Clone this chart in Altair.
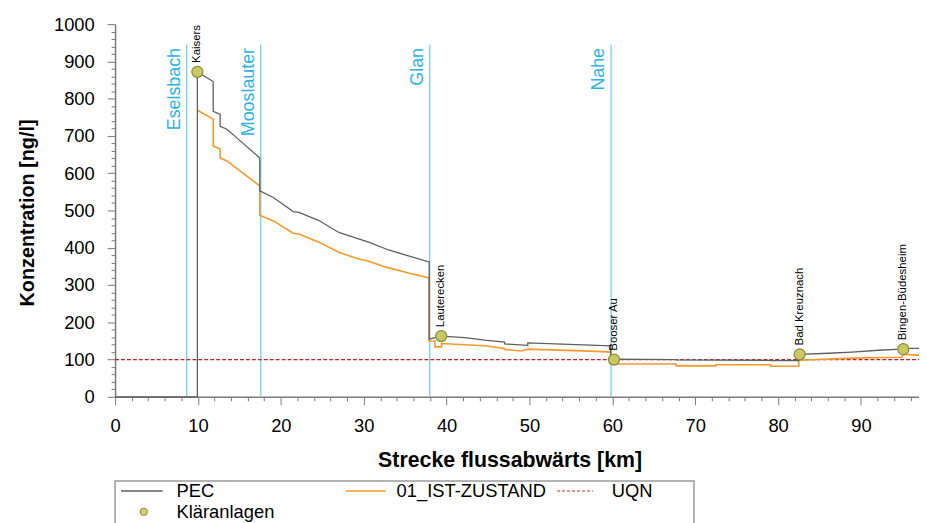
import altair as alt
import pandas as pd

# ---- data ----
pec_km = [0, 9.93, 9.93, 11.84, 11.84, 12.68, 12.68, 13.5, 15.55, 17.46,
          17.46, 19.1, 21.5, 22.2, 24.6, 27.0, 29.1, 30.6, 33.0, 35.4,
          37.9, 37.9, 39.35, 42.2, 44.6, 47.0, 47.0, 49.8, 49.8, 59.8,
          59.8, 60.2, 67.7, 67.7, 79.1, 79.1, 82.5, 82.5, 86.1, 88.9,
          92.1, 94.9, 95.1, 97]
pec_val = [0, 0, 872, 846, 766, 758, 726, 718, 678, 641,
           553, 535, 497, 495, 473, 441, 426, 415, 394, 378,
           362, 155, 163, 159, 152, 147, 142, 138, 145, 137,
           100, 101, 100, 99, 98, 97, 97, 114, 117, 120,
           125, 128, 130, 130]

ist_km = [9.93, 11.84, 11.84, 12.68, 12.68, 13.5, 15.55, 17.46, 17.46, 19.1,
          21.5, 22.2, 24.6, 27.0, 29.1, 30.6, 32.7, 35.4, 37.9, 37.9,
          38.6, 38.6, 39.4, 39.4, 44.6, 47.0, 47.0, 49.0, 49.8, 58.2,
          59.8, 59.8, 67.7, 67.7, 72.5, 72.5, 79.1, 79.1, 82.5, 82.5,
          88.9, 94.9, 95.1, 97]
ist_val = [769, 745, 673, 665, 641, 633, 598, 566, 487, 472,
           439, 437, 415, 388, 372, 364, 348, 332, 319, 150,
           150, 134, 134, 143, 137, 130, 127, 123, 128, 122,
           120, 88, 88, 83, 83, 86, 86, 82, 82, 98,
           104, 106, 114, 112]

plant_names = ["Kaisers", "Lauterecken", "Booser Au", "Bad Kreuznach", "Bingen-Büdesheim"]
plant_km = [9.93, 39.35, 60.2, 82.6, 95.1]
plant_val = [872, 163, 100, 114, 128]

river_names = ["Eselsbach", "Mooslauter", "Glan", "Nahe"]
river_km = [8.65, 17.58, 37.96, 59.85]
river_top = 945
river_label_at = 936

uqn_value = 100
x_domain = [0, 97]
y_domain = [0, 1000]
x_tick_values = list(range(0, 97, 2))
y_tick_values = list(range(0, 1001, 20))

legend_labels = ["PEC", "01_IST-ZUSTAND", "UQN", "Kläranlagen"]

FONT = "Liberation Sans"
GRAY = "#5f5f5f"
ORANGE = "#F39A2B"
UQN_RED = "#B0282E"
CYAN_LINE = "#7ED4E4"
CYAN_TEXT = "#2EB2E0"
PLANT_FILL = "#C8C864"
PLANT_STROKE = "#8A8A3A"

pec_df = pd.DataFrame({"km": pec_km, "val": pec_val, "i": range(len(pec_km))})
ist_df = pd.DataFrame({"km": ist_km, "val": ist_val, "i": range(len(ist_km))})
plant_df = pd.DataFrame({"name": plant_names, "km": plant_km, "val": plant_val})
river_df = pd.DataFrame({"name": river_names, "km": river_km,
                         "val": [0] * len(river_km), "top": [river_top] * len(river_km)})
river_lab_df = pd.DataFrame({"name": river_names, "km": river_km,
                             "val": [river_label_at] * len(river_km)})
uqn_df = pd.DataFrame({"km": [x_domain[0]], "km2": [x_domain[1]], "val": [uqn_value]})

x_scale = alt.Scale(domain=x_domain, nice=False, zero=False)
y_scale = alt.Scale(domain=y_domain, nice=False)

x_axis = alt.Axis(
    values=x_tick_values, format="d",
    labelExpr="datum.value % 10 === 0 ? datum.label : ''",
    tickSize={"condition": {"test": "datum.value % 10 === 0", "value": 8}, "value": 4},
    labelFontSize=18.5, labelFont=FONT, labelColor="black", labelPadding=12,
    labelFlush=False, labelOverlap=False, labelBound=False,
    domainColor="#7a7a7a", tickColor="#7a7a7a", domainWidth=1.5, grid=False,
    title="Strecke flussabwärts [km]", titleFont=FONT, titleFontSize=21.5,
    titleFontWeight="bold", titleColor="black",
    titleX=398, titleY=64, titleBaseline="middle", titleAlign="center",
)
y_axis = alt.Axis(
    values=y_tick_values, format="d",
    labelExpr="datum.value % 100 === 0 ? datum.label : ''",
    tickSize={"condition": {"test": "datum.value % 100 === 0", "value": 8}, "value": 4},
    labelFontSize=18.5, labelFont=FONT, labelColor="black", labelPadding=13,
    labelFlush=False, labelOverlap=False, labelBound=False,
    domainColor="#7a7a7a", tickColor="#7a7a7a", domainWidth=1.5, grid=False,
    title="Konzentration [ng/l]", titleFont=FONT, titleFontSize=20,
    titleFontWeight="bold", titleColor="black",
    titleX=-88, titleY=190, titleAngle=270, titleBaseline="middle", titleAlign="center",
)

X = alt.X("km:Q", scale=x_scale, axis=x_axis)
Y = alt.Y("val:Q", scale=y_scale, axis=y_axis)

rivers = alt.Chart(river_df).mark_rule(color=CYAN_LINE, strokeWidth=1.4).encode(
    x=X, y=Y, y2="top:Q")
river_text = alt.Chart(river_lab_df).mark_text(
    angle=270, align="right", baseline="bottom", dy=-3,
    font=FONT, fontSize=18, color=CYAN_TEXT).encode(x=X, y=Y, text="name:N")

uqn = alt.Chart(uqn_df).mark_rule(color=UQN_RED, strokeWidth=1.2, strokeDash=[4, 2]).encode(
    x=X, x2="km2:Q", y=Y)

ist = alt.Chart(ist_df).mark_line(color=ORANGE, strokeWidth=1.6).encode(
    x=X, y=Y, order="i:Q")
pec = alt.Chart(pec_df).mark_line(color=GRAY, strokeWidth=1.3).encode(
    x=X, y=Y, order="i:Q")

plants = alt.Chart(plant_df).mark_point(
    filled=True, fill=PLANT_FILL, stroke=PLANT_STROKE, strokeWidth=1.2,
    size=125, opacity=1, shape="circle").encode(x=X, y=Y)
plant_text = alt.Chart(plant_df).mark_text(
    angle=270, align="left", baseline="middle", dx=9,
    font=FONT, fontSize=11.5, color="black").encode(x=X, y=Y, text="name:N")

# ---- legend (drawn below the plot, relative to plot origin) ----
one = pd.DataFrame({"a": [0]})
row1, row2 = 471, 492
leg_box = alt.Chart(one).mark_rect(fill="white", stroke="#9a9a9a", strokeWidth=1.5).encode(
    x=alt.value(0), x2=alt.value(584), y=alt.value(461), y2=alt.value(530))
leg_parts = [leg_box]
sym_specs = [
    (6, 48, row1, GRAY, None),
    (233, 273, row1, ORANGE, None),
    (446, 482, row1, UQN_RED, [3, 2]),
]
text_x = [62, 284, 501, 62]
text_y = [row1, row1, row1, row2]
for (x1, x2, yy, col, dash) in sym_specs:
    kw = dict(color=col, strokeWidth=1.4)
    if dash:
        kw["strokeDash"] = dash
        kw["strokeWidth"] = 1
    leg_parts.append(alt.Chart(one).mark_rule(**kw).encode(
        x=alt.value(x1), x2=alt.value(x2), y=alt.value(yy)))
leg_parts.append(alt.Chart(one).mark_point(
    filled=True, fill="#D2D270", stroke=PLANT_STROKE, strokeWidth=1, size=55,
    opacity=1, shape="circle").encode(x=alt.value(29), y=alt.value(row2)))
for lab, tx, ty in zip(legend_labels, text_x, text_y):
    leg_parts.append(alt.Chart(pd.DataFrame({"t": [lab]})).mark_text(
        align="left", baseline="middle", font=FONT, fontSize=18.5, color="black").encode(
        x=alt.value(tx), y=alt.value(ty), text="t:N"))

chart = alt.layer(
    rivers, river_text, uqn, ist, pec, plants, plant_text, *leg_parts
).properties(
    width=811, height=376,
    padding={"left": 108, "top": 14, "right": 0, "bottom": 125},
    autosize=alt.AutoSizeParams(type="none"),
    background="white",
).configure_view(stroke=None).configure_axis(labelOverlap=False)

chart.save("out.html", embed_options={"renderer": "svg", "actions": False})
